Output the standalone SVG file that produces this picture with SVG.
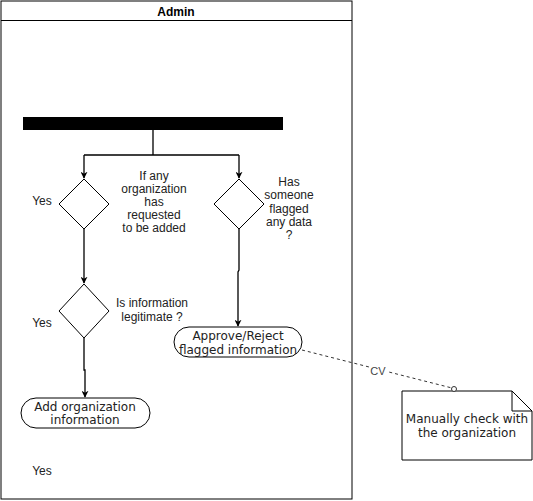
<svg xmlns="http://www.w3.org/2000/svg" width="533" height="501" viewBox="0 0 533 501">
<defs>
<marker id="arr" viewBox="0 0 10 10" refX="9" refY="5" markerWidth="7" markerHeight="7" orient="auto" markerUnits="userSpaceOnUse">
<path d="M0,0 L10,5 L0,10 L3,5 Z" fill="#000"/>
</marker>
<style>
.lbl{font-family:"Liberation Sans",Arial,sans-serif;font-size:12px;fill:#222;text-anchor:middle}
.nt{font-family:"DejaVu Sans",Verdana,sans-serif;font-size:12px;fill:#222;text-anchor:middle}
.shape{fill:#fff;stroke:#000;stroke-width:1}
.edge{fill:none;stroke:#000;stroke-width:1.3}
</style>
</defs>
<rect x="0" y="0" width="533" height="501" fill="#fff"/>
<g id="pool">
<rect x="1" y="1" width="351" height="498" class="shape"/>
<line x1="1" y1="20.5" x2="352" y2="20.5" stroke="#000"/>
<text x="176" y="16" class="lbl" style="font-weight:bold;fill:#000">Admin</text>
</g>
<g id="fork">
<rect x="23" y="117" width="260" height="13" fill="#000"/>
</g>
<g id="decision1">
<polygon points="84,179 109,204 84,229 59,204" class="shape"/>
</g>
<g id="decision2">
<polygon points="239,179 264,204 239,229 214,204" class="shape"/>
</g>
<g id="decision3">
<polygon points="84,284 109,311 84,338 59,311" class="shape"/>
</g>
<g id="addOrg">
<rect x="21" y="398" width="129" height="30" rx="15" ry="15" class="shape"/>
<text x="85" y="411" class="nt">Add organization</text>
<text x="85" y="424" class="nt">information</text>
</g>
<g id="approve">
<rect x="174" y="327" width="128" height="30" rx="15" ry="15" class="shape"/>
<text x="238" y="340" class="nt">Approve/Reject</text>
<text x="238" y="354" class="nt">flagged information</text>
</g>
<g id="note">
<path d="M402,391 L512,391 L532,411 L532,460 L402,460 Z" class="shape"/>
<path d="M512,391 L512,411 L532,411" fill="none" stroke="#000"/>
<text x="467" y="423" class="nt">Manually check with</text>
<text x="467" y="437" class="nt">the organization</text>
</g>
<g id="labels">
<text x="154" y="180" class="lbl">If any</text>
<text x="154" y="193" class="lbl">organization</text>
<text x="154" y="206" class="lbl">has</text>
<text x="154" y="219" class="lbl">requested</text>
<text x="154" y="232" class="lbl">to be added</text>
<text x="289" y="186" class="lbl">Has</text>
<text x="289" y="199" class="lbl">someone</text>
<text x="289" y="213" class="lbl">flagged</text>
<text x="289" y="226" class="lbl">any data</text>
<text x="289" y="239" class="lbl">?</text>
<text x="42" y="205" class="lbl">Yes</text>
<text x="152" y="307" class="lbl">Is information</text>
<text x="152" y="321" class="lbl">legitimate ?</text>
<text x="42" y="327" class="lbl">Yes</text>
<text x="42" y="475" class="lbl">Yes</text>
</g>
<g id="connectors">
<path d="M153,130 L153,155 M84,155 L239,155" class="edge"/>
<path d="M84,155 L84,178" class="edge" marker-end="url(#arr)"/>
<path d="M239,155 L239,178" class="edge" marker-end="url(#arr)"/>
<path d="M84,229 L84,283" class="edge" marker-end="url(#arr)"/>
<path d="M84,338 L84,370 L85,370 L85,397" class="edge" marker-end="url(#arr)"/>
<path d="M239,229 L239,270 L238,272 L238,326" class="edge" marker-end="url(#arr)"/>
<path d="M302,350 L452,388" fill="none" stroke="#333" stroke-width="1" stroke-dasharray="3,3"/>
<circle cx="454" cy="389" r="2.5" fill="#fff" stroke="#333"/>
<rect x="369" y="365" width="18" height="12" fill="#fff"/>
<text x="378" y="375" class="lbl" style="font-size:11px;fill:#444">CV</text>
</g>
</svg>
